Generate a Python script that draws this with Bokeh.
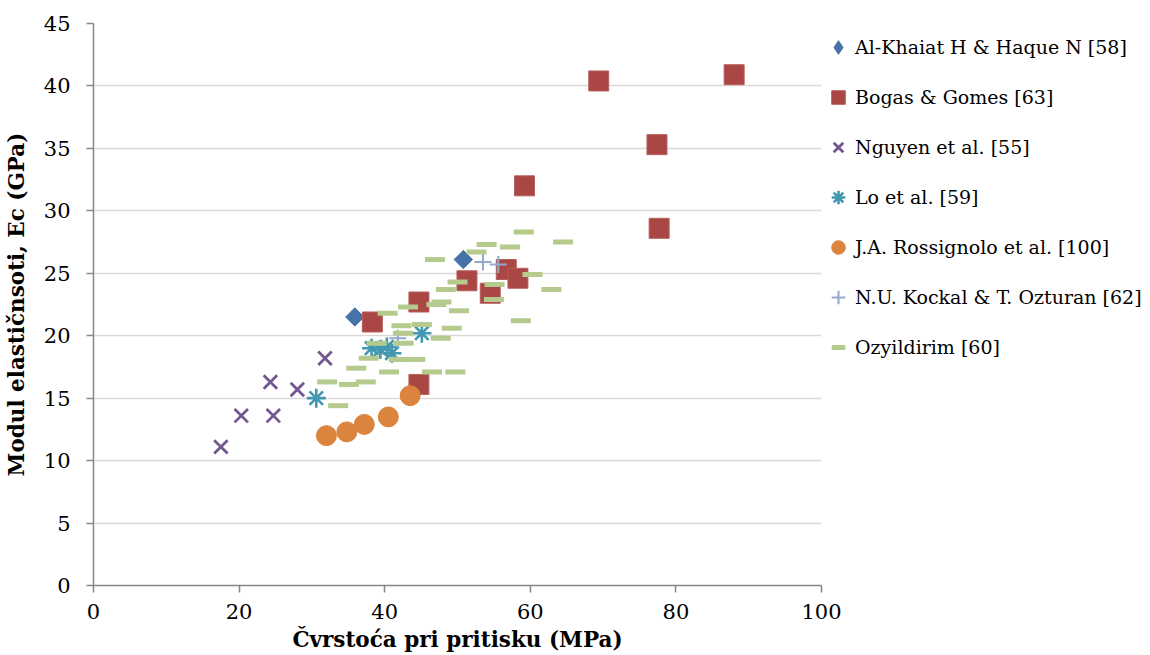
import math
from bokeh.plotting import figure
from bokeh.models import Range1d, FixedTicker, Legend, LegendItem
from bokeh.embed import file_html
from bokeh.resources import INLINE

# ---- data ----
alkhaiat_x = [35.9, 50.8]
alkhaiat_y = [21.5, 26.1]

bogas_x = [38.3, 44.7, 44.7, 51.3, 54.5, 56.7, 58.3, 59.2, 69.4, 77.4, 77.7, 88.0]
bogas_y = [21.1, 22.7, 16.1, 24.4, 23.4, 25.3, 24.6, 32.0, 40.4, 35.3, 28.6, 40.9]

nguyen_x = [17.5, 20.3, 24.7, 24.3, 28.0, 31.8]
nguyen_y = [11.1, 13.6, 13.6, 16.3, 15.7, 18.2]

lo_x = [30.6, 38.2, 39.4, 40.3, 41.0, 45.1]
lo_y = [15.0, 19.0, 18.9, 19.1, 18.6, 20.2]

ross_x = [32.0, 34.8, 37.2, 40.5, 43.5]
ross_y = [12.0, 12.3, 12.9, 13.5, 15.2]

kockal_x = [53.5, 55.6, 41.8]
kockal_y = [25.9, 25.7, 19.8]

ozy_x = [59.1, 64.5, 54.0, 57.2, 52.6, 46.9, 60.3, 50.0, 55.1, 62.9, 48.4, 55.0,
         47.8, 47.1, 43.2, 50.2, 40.4, 58.7, 42.3, 45.1, 49.2, 42.5, 47.7, 38.9,
         42.6, 37.8, 41.9, 44.2, 36.1, 40.6, 46.5, 49.7, 32.1, 35.1, 37.4, 33.6]
ozy_y = [28.3, 27.5, 27.3, 27.1, 26.7, 26.1, 24.9, 24.3, 24.1, 23.7, 23.7, 22.9,
         22.7, 22.5, 22.3, 22.0, 21.8, 21.2, 20.8, 20.9, 20.6, 20.2, 19.8, 19.4,
         19.4, 18.2, 18.1, 18.1, 17.4, 17.1, 17.1, 17.1, 16.3, 16.1, 16.3, 14.4]

x_ticks = [0, 20, 40, 60, 80, 100]
y_ticks = [0, 5, 10, 15, 20, 25, 30, 35, 40, 45]

x_title = "Čvrstoća pri pritisku (MPa)"
y_title = "Modul elastičnsoti, Ec (GPa)"

names = ["Al-Khaiat H & Haque N [58]", "Bogas & Gomes [63]", "Nguyen et al. [55]",
         "Lo et al. [59]", "J.A. Rossignolo et al. [100]", "N.U. Kockal & T. Ozturan [62]",
         "Ozyildirim [60]"]

FONT = "DejaVu Serif"
BLUE = "#4572A7"

p = figure(frame_width=728, frame_height=562, min_border_left=93, min_border_top=23,
           min_border_right=300, min_border_bottom=66,
           x_range=Range1d(0, 100), y_range=Range1d(0, 45),
           output_backend="svg", toolbar_location=None)
p.outline_line_color = None
p.background_fill_color = "white"
p.border_fill_color = "white"

p.xgrid.visible = False
p.ygrid.ticker = FixedTicker(ticks=y_ticks)
p.ygrid.grid_line_color = "#D9D9D9"
p.ygrid.grid_line_width = 1.5

p.xaxis.ticker = FixedTicker(ticks=x_ticks)
p.yaxis.ticker = FixedTicker(ticks=y_ticks)
for ax in (p.xaxis[0], p.yaxis[0]):
    ax.axis_line_color = "#868686"
    ax.axis_line_width = 1.5
    ax.major_tick_line_color = "#868686"
    ax.major_tick_line_width = 1.5
    ax.major_tick_out = 7
    ax.major_tick_in = 0
    ax.minor_tick_line_color = None
    ax.major_label_text_font = FONT
    ax.major_label_text_font_size = "21px"
    ax.major_label_text_color = "black"
    ax.axis_label_text_font = FONT
    ax.axis_label_text_font_style = "bold"
    ax.axis_label_text_font_size = "21.5px"
    ax.axis_label_text_color = "black"
p.xaxis.major_label_standoff = 11
p.yaxis.major_label_standoff = 16
p.xaxis.axis_label = x_title
p.xaxis.axis_label_standoff = 5
p.yaxis.axis_label = y_title
p.yaxis.axis_label_standoff = 12

# diamond drawn first (hidden under the rotated square) so the legend shows a diamond
r1_legend = p.scatter(alkhaiat_x, alkhaiat_y, marker="diamond", size=13,
                      fill_color=BLUE, line_color=BLUE)
r1 = p.scatter(alkhaiat_x, alkhaiat_y, marker="square", angle=math.pi / 4, size=13,
               fill_color=BLUE, line_color=BLUE)
r2 = p.scatter(bogas_x, bogas_y, marker="square", size=20,
               fill_color="#AA4643", line_color="#B85F5C", line_width=1)
r3 = p.scatter(nguyen_x, nguyen_y, marker="x", size=19, line_color="#71588F", line_width=2.8)
r4 = p.scatter(lo_x, lo_y, marker="asterisk", size=19, line_color="#4198AF", line_width=2.6)
r5 = p.scatter(ross_x, ross_y, marker="circle", size=20,
               fill_color="#DB843D", line_color="#DB843D")
r6 = p.scatter(kockal_x, kockal_y, marker="cross", size=17, line_color="#93A9CF", line_width=2)
r7 = p.scatter(ozy_x, ozy_y, marker="dash", size=20, line_color="#B5CB8E", line_width=5)

renderers = [r1_legend, r2, r3, r4, r5, r6, r7]
legend = Legend(items=[LegendItem(label=n, renderers=[r]) for n, r in zip(names, renderers)],
                location="top_left", glyph_width=34, glyph_height=48, spacing=2,
                label_standoff=0, padding=0, margin=0,
                border_line_color=None, background_fill_alpha=0,
                label_text_font=FONT, label_text_font_size="19px", label_text_color="black")
p.add_layout(legend, "right")

open("out.html", "w").write(file_html(p, INLINE))
